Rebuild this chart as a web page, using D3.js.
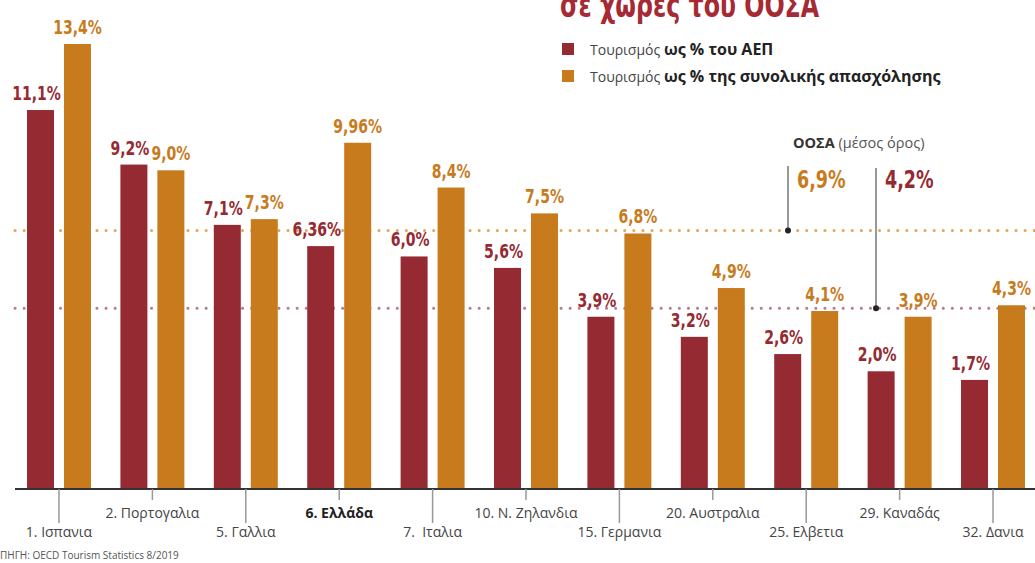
<!DOCTYPE html>
<html>
<head>
<meta charset="utf-8">
<script src="https://cdn.jsdelivr.net/npm/d3@7"></script>
<style>
  body { margin: 0; background: #fff; }
  svg { display: block; font-family: "Open Sans", "DejaVu Sans", sans-serif; }
  .num { font-family: "DejaVu Sans Condensed", "Liberation Sans Narrow", sans-serif; font-weight: bold; }
</style>
</head>
<body>
<div id="chart"></div>
<script>
// data
var countries = ["1. Ισπανια", "2. Πορτογαλια", "5. Γαλλια", "6. Ελλάδα", "7.  Ιταλια",
                 "10. Ν. Ζηλανδια", "15. Γερμανια", "20. Αυστραλια", "25. Ελβετια",
                 "29. Καναδάς", "32. Δανια"];
var gdpShare   = [11.1, 9.2, 7.1, 6.36, 6.0, 5.6, 3.9, 3.2, 2.6, 2.0, 1.7];
var gdpLabels  = ["11,1%", "9,2%", "7,1%", "6,36%", "6,0%", "5,6%", "3,9%", "3,2%", "2,6%", "2,0%", "1,7%"];
var empShare   = [13.4, 9.0, 7.3, 9.96, 8.4, 7.5, 6.8, 4.9, 4.1, 3.9, 4.3];
var empLabels  = ["13,4%", "9,0%", "7,3%", "9,96%", "8,4%", "7,5%", "6,8%", "4,9%", "4,1%", "3,9%", "4,3%"];
var oecdAvg    = {gdp: 4.2, emp: 6.9};
var series     = ["gdp", "emp"];

var RED = "#962a33", ORANGE = "#c87b1d";

var width = 1035, height = 563;
var baseY = 489;
var squeeze = 0.78; // condensed look for the big numbers

var svg = d3.select("#chart").append("svg")
    .attr("width", width)
    .attr("height", height);

// scales
var x0 = d3.scaleBand()
    .domain(countries)
    .range([27, 1025])
    .paddingInner(0.315)
    .paddingOuter(0);
var x1 = d3.scaleBand()
    .domain(series)
    .range([0, x0.bandwidth()])
    .paddingInner(0.27);
var y = d3.scaleLinear()
    .domain([-2.1, 13.4])
    .range([baseY, 44]);

var rows = countries.map(function(c, i) {
  return {country: c, i: i, vals: [
    {key: "gdp", v: gdpShare[i], label: gdpLabels[i]},
    {key: "emp", v: empShare[i], label: empLabels[i]}
  ]};
});

// OECD average dotted lines (behind bars)
svg.append("line")
    .attr("x1", 15).attr("x2", width)
    .attr("y1", y(oecdAvg.emp)).attr("y2", y(oecdAvg.emp))
    .attr("stroke", "#e0a85a").attr("stroke-width", 3)
    .attr("stroke-linecap", "round")
    .attr("stroke-dasharray", "0.1 9");
svg.append("line")
    .attr("x1", 15).attr("x2", width)
    .attr("y1", y(oecdAvg.gdp)).attr("y2", y(oecdAvg.gdp))
    .attr("stroke", "#b57c8c").attr("stroke-width", 3)
    .attr("stroke-linecap", "round")
    .attr("stroke-dasharray", "0.1 9");

// bars
var groups = svg.append("g").selectAll("g")
    .data(rows)
    .enter().append("g")
      .attr("transform", function(d) { return "translate(" + x0(d.country) + ",0)"; });

groups.selectAll("rect")
    .data(function(d) { return d.vals; })
    .enter().append("rect")
      .attr("x", function(d) { return x1(d.key); })
      .attr("width", x1.bandwidth())
      .attr("y", function(d) { return y(d.v); })
      .attr("height", function(d) { return baseY - y(d.v); })
      .attr("fill", function(d) { return d.key === "gdp" ? RED : ORANGE; });

groups.selectAll("text")
    .data(function(d) { return d.vals; })
    .enter().append("text")
      .attr("class", "num")
      .attr("transform", function(d) {
        var cx = x1(d.key) + x1.bandwidth() / 2 - (d.key === "gdp" ? 4 : 0);
        return "translate(" + cx + "," + (y(d.v) - 10) + ") scale(" + squeeze + ",1)";
      })
      .attr("text-anchor", "middle")
      .attr("font-size", 20)
      .attr("fill", function(d) { return d.key === "gdp" ? RED : ORANGE; })
      .text(function(d) { return d.label; });

// x axis line + alternating ticks
svg.append("line")
    .attr("x1", 15).attr("x2", width)
    .attr("y1", baseY).attr("y2", baseY)
    .attr("stroke", "#333").attr("stroke-width", 2);

var ticks = svg.append("g").selectAll("g")
    .data(rows)
    .enter().append("g")
      .attr("transform", function(d) { return "translate(" + (x0(d.country) + x0.bandwidth() / 2) + ",0)"; });

ticks.append("line")
    .attr("y1", baseY)
    .attr("y2", function(d) { return d.i % 2 === 0 ? 523 : 500; })
    .attr("stroke", "#999").attr("stroke-width", 1.5);

ticks.append("text")
    .attr("y", function(d) { return d.i % 2 === 0 ? 537 : 518; })
    .attr("text-anchor", "middle")
    .attr("font-size", 14)
    .attr("font-weight", function(d) { return d.i === 3 ? "bold" : "normal"; })
    .attr("fill", function(d) { return d.i === 3 ? "#222" : "#444"; })
    .style("white-space", "pre")
    .text(function(d) { return d.country; });

// title (cut off at top, like the source)
svg.append("text")
    .attr("class", "num")
    .attr("transform", "translate(560,17) scale(0.8,1)")
    .attr("font-size", 33)
    .attr("fill", "#a52a33")
    .text("σε χώρες του ΟΟΣΑ");

// legend
var legend = [
  {c: RED, bold: "ως % του ΑΕΠ"},
  {c: ORANGE, bold: "ως % της συνολικής απασχόλησης"}
];
var lg = svg.append("g").selectAll("g")
    .data(legend)
    .enter().append("g")
      .attr("transform", function(d, i) { return "translate(562," + (43 + i * 27) + ")"; });
lg.append("rect")
    .attr("width", 12).attr("height", 12)
    .attr("fill", function(d) { return d.c; });
var lt = lg.append("text")
    .attr("x", 28).attr("y", 12)
    .attr("font-size", 16)
    .attr("fill", "#222");
lt.append("tspan").attr("font-size", 14).attr("fill", "#444").text("Τουρισμός ");
lt.append("tspan").attr("font-weight", "bold").text(function(d) { return d.bold; });

// OECD annotation
var ann = svg.append("text")
    .attr("x", 793).attr("y", 148)
    .attr("font-size", 14.5)
    .attr("fill", "#333");
ann.append("tspan").attr("font-weight", "bold").text("ΟΟΣΑ");
ann.append("tspan").attr("fill", "#555").text(" (μέσος όρος)");

svg.append("text").attr("class", "num")
    .attr("transform", "translate(797,188) scale(" + squeeze + ",1)")
    .attr("font-size", 25).attr("fill", ORANGE)
    .text("6,9%");
svg.append("text").attr("class", "num")
    .attr("transform", "translate(885,188) scale(" + squeeze + ",1)")
    .attr("font-size", 25).attr("fill", RED)
    .text("4,2%");

var pointers = [{x: 788, y0: 166, v: oecdAvg.emp}, {x: 876, y0: 168, v: oecdAvg.gdp}];
pointers.forEach(function(p) {
  svg.append("line")
      .attr("x1", p.x).attr("x2", p.x)
      .attr("y1", p.y0).attr("y2", y(p.v))
      .attr("stroke", "#777").attr("stroke-width", 1.5);
  svg.append("circle")
      .attr("cx", p.x).attr("cy", y(p.v))
      .attr("r", 3).attr("fill", "#222");
});

// source
svg.append("text")
    .attr("x", 0).attr("y", 559)
    .attr("font-size", 10)
    .attr("fill", "#555")
    .text("ΠΗΓΗ: OECD Tourism Statistics 8/2019");
</script>
</body>
</html>
